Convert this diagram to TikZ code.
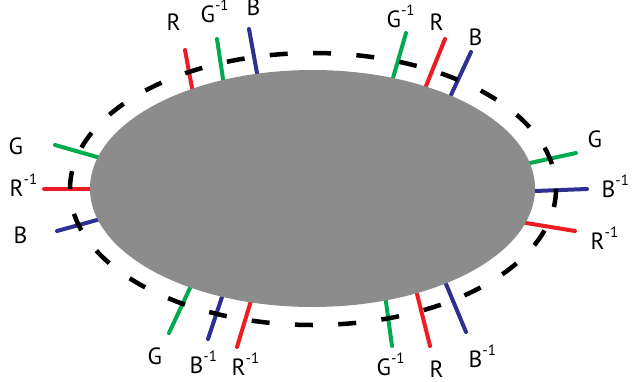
\documentclass[tikz,border=0pt]{standalone}
\usepackage{fontspec}
\setmainfont{PT Sans}
\definecolor{stickred}{RGB}{237,28,36}
\definecolor{stickgreen}{RGB}{0,170,79}
\definecolor{stickblue}{RGB}{46,49,146}
\definecolor{bodygrey}{RGB}{140,140,140}
\newcommand{\invsup}{\raisebox{12pt}{\fontsize{15}{15}\selectfont -1}}
\tikzset{
  stick/.style={line width=4pt, line cap=round, shorten <=-6pt},
  rstick/.style={stick, stickred},
  gstick/.style={stick, stickgreen},
  bstick/.style={stick, stickblue},
  lbl/.style={anchor=base west, inner sep=0pt, font=\fontsize{23.5}{28}\selectfont},
}
\begin{document}
\begin{tikzpicture}[x=1pt,y=-1pt]
\useasboundingbox (0,0) rectangle (633,381);

% Sticks (inner end first, hidden under the body)
\draw[rstick] (192,88) -- (185,50);
\draw[gstick] (223,79) -- (217,39);
\draw[bstick] (257,73) -- (249,29);
\draw[gstick] (97,157) -- (55,145);
\draw[rstick] (90,189) -- (44,189);
\draw[bstick] (97,220) -- (57,231);
\draw[gstick] (190,288) -- (169,333);
\draw[bstick] (222,297) -- (208,339);
\draw[rstick] (250,304) -- (237,347);
\draw[gstick] (393,78) -- (406,33);
\draw[rstick] (426,86) -- (445,39);
\draw[bstick] (451,95) -- (471,52);
\draw[gstick] (530,163) -- (576,153);
\draw[bstick] (535,191) -- (587,189);
\draw[rstick] (526,223) -- (575,231);
\draw[gstick] (386,302) -- (392,346);
\draw[rstick] (417,294) -- (430,346);
\draw[bstick] (446,284) -- (466,332);

% Body and dashed shell
\fill[bodygrey] (312.5,188.5) ellipse [x radius=222.5pt, y radius=118.5pt];
\draw[line width=4.5pt, dash pattern=on 18pt off 25.375pt, dash phase=18pt]
  (313,189) ellipse [x radius=243pt, y radius=136pt];

% Labels, top left
\node[lbl] (tlR) at (166.5,30) {R};
\node[lbl] (tlGi) at (200.5,22) {G\invsup};
\node[lbl] (tlB) at (246.5,15) {B};
% left
\node[lbl] (lG) at (8.5,154) {G};
\node[lbl] (lRi) at (9.5,196) {R\invsup};
\node[lbl] (lB) at (13.5,243) {B};
% bottom left
\node[lbl] (blG) at (147.5,364) {G};
\node[lbl] (blBi) at (189.5,373) {B\invsup};
\node[lbl] (blRi) at (231.5,375) {R\invsup};
% top right
\node[lbl] (trGi) at (386.5,27) {G\invsup};
\node[lbl] (trR) at (429.5,30) {R};
\node[lbl] (trB) at (468.5,45) {B};
% right
\node[lbl] (rG) at (587.5,147) {G};
\node[lbl] (rBi) at (601.5,197) {B\invsup};
\node[lbl] (rRi) at (590.5,249) {R\invsup};
% bottom right
\node[lbl] (brGi) at (376.5,375) {G\invsup};
\node[lbl] (brR) at (429.5,377) {R};
\node[lbl] (brBi) at (468.5,367) {B\invsup};
\end{tikzpicture}
\end{document}
